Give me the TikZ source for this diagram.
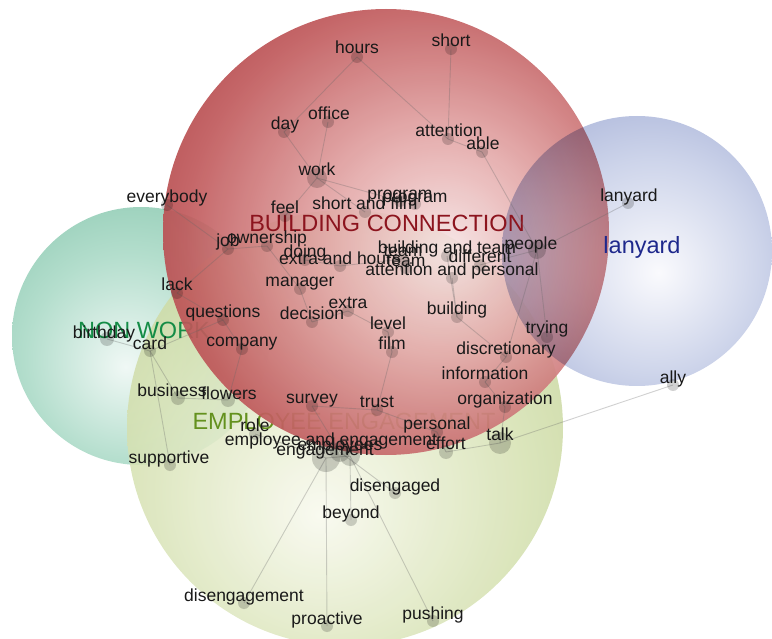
\documentclass[tikz,border=0pt]{standalone}
\usepackage{fontspec}
\setmainfont{Liberation Sans}
\definecolor{redA}{RGB}{246,228,228}
\definecolor{redB}{RGB}{228,170,170}
\definecolor{redC}{RGB}{192,90,92}
\definecolor{redD}{RGB}{163,44,48}
\definecolor{redE}{RGB}{145,28,34}
\definecolor{bluA}{RGB}{250,250,253}
\definecolor{bluB}{RGB}{205,212,234}
\definecolor{bluC}{RGB}{125,140,195}
\definecolor{tealA}{RGB}{240,248,245}
\definecolor{tealB}{RGB}{180,222,205}
\definecolor{tealC}{RGB}{98,178,148}
\definecolor{oliA}{RGB}{248,249,238}
\definecolor{oliB}{RGB}{215,226,180}
\definecolor{oliC}{RGB}{160,186,100}
\definecolor{bcRed}{RGB}{140,20,30}
\definecolor{lnBlue}{RGB}{30,40,140}
\definecolor{nwGreen}{RGB}{20,140,70}
\definecolor{eeOlive}{RGB}{100,145,30}
\pgfdeclareradialshading{redsh}{\pgfpoint{7bp}{-2bp}}{color(0bp)=(redA); color(12bp)=(redB); color(27bp)=(redC); color(40bp)=(redD); color(52bp)=(redE); color(75bp)=(redE)}
\pgfdeclareradialshading{blush}{\pgfpoint{4bp}{-4bp}}{color(0bp)=(bluA); color(20bp)=(bluB); color(52bp)=(bluC); color(75bp)=(bluC)}
\pgfdeclareradialshading{tealsh}{\pgfpoint{-3bp}{-6bp}}{color(0bp)=(tealA); color(20bp)=(tealB); color(54bp)=(tealC); color(75bp)=(tealC)}
\pgfdeclareradialshading{olish}{\pgfpoint{-3bp}{-10bp}}{color(0bp)=(oliA); color(22bp)=(oliB); color(58bp)=(oliC); color(75bp)=(oliC)}
\tikzset{
  word/.style={font=\fontsize{17.5}{18}\selectfont, text=black!90, inner sep=0pt, text height=13pt, text depth=0pt, anchor=center},
  biglabel/.style={font=\fontsize{23.5}{24}\selectfont, inner sep=0pt, text height=17pt, text depth=0pt, anchor=center},
  dot/.style={circle, fill=black, fill opacity=0.18, draw=none, minimum size=12pt, inner sep=0pt},
  link/.style={draw=black!60, draw opacity=0.3, line width=0.9pt}
}
\begin{document}
\begin{tikzpicture}[x=1pt,y=-1pt]
\useasboundingbox (0,0) rectangle (772,639);
\begin{scope}
\clip (0,0) rectangle (772,639);
% circles
\shade[shading=tealsh] (141,336) circle (129);
\shade[shading=olish, opacity=0.88] (345,428) circle (218);
\node[biglabel, text=nwGreen] (nonwork) at (144,330) {NON WORK};
\node[biglabel, text=eeOlive] (empeng) at (344,421) {EMPLOYEE ENGAGEMENT};
\shade[shading=redsh, opacity=0.92] (386,232) circle (223);
\begin{scope}[blend mode=multiply]
\shade[shading=blush] (637,251) circle (135);
\end{scope}
\end{scope}
\node[biglabel, text=bcRed] (bconn) at (387,223) {BUILDING CONNECTION};
\node[biglabel, text=lnBlue] (lanlabel) at (642,245) {lanyard};

% dot coordinates
\coordinate (hours-d) at (357,57);
\coordinate (short-d) at (451,49);
\coordinate (day-d) at (284,132);
\coordinate (office-d) at (328,122);
\coordinate (attention-d) at (448,139);
\coordinate (able-d) at (482,152);
\coordinate (work-d) at (317,178);
\coordinate (everybody-d) at (167,205);
\coordinate (feel-d) at (285,216);
\coordinate (shortfilm-d) at (365,212);
\coordinate (program-d) at (400,201);
\coordinate (programb-d) at (415,204);
\coordinate (job-d) at (228,249);
\coordinate (ownership-d) at (267,246);
\coordinate (doing-d) at (305,260);
\coordinate (extrahours-d) at (340,266);
\coordinate (team-d) at (403,259);
\coordinate (teamb-d) at (406,268);
\coordinate (buildteam-d) at (447,256);
\coordinate (different-d) at (480,265);
\coordinate (people-d) at (537,250);
\coordinate (attpers-d) at (452,278);
\coordinate (manager-d) at (300,289);
\coordinate (lack-d) at (177,293);
\coordinate (questions-d) at (223,320);
\coordinate (extra-d) at (348,311);
\coordinate (decision-d) at (312,322);
\coordinate (building-d) at (457,317);
\coordinate (level-d) at (388,332);
\coordinate (film-d) at (392,352);
\coordinate (trying-d) at (547,337);
\coordinate (discretionary-d) at (506,357);
\coordinate (information-d) at (485,382);
\coordinate (organization-d) at (505,407);
\coordinate (survey-d) at (312,406);
\coordinate (trust-d) at (377,410);
\coordinate (personal-d) at (437,432);
\coordinate (effort-d) at (446,452);
\coordinate (talk-d) at (500,443);
\coordinate (empandeng-d) at (340,452);
\coordinate (employees-d) at (350,456);
\coordinate (engagement-d) at (326,458);
\coordinate (role-d) at (255,434);
\coordinate (business-d) at (178,398);
\coordinate (flowers-d) at (228,400);
\coordinate (company-d) at (242,349);
\coordinate (birthday-d) at (107,339);
\coordinate (card-d) at (150,351);
\coordinate (supportive-d) at (170,465);
\coordinate (disengaged-d) at (395,493);
\coordinate (beyond-d) at (351,520);
\coordinate (disengagement-d) at (244,603);
\coordinate (proactive-d) at (327,626);
\coordinate (pushing-d) at (433,621);
\coordinate (lanyard-d) at (628,203);
\coordinate (ally-d) at (673,385);

% links
\foreach \a/\b in {hours/day, hours/attention, short/attention, day/work, office/work, work/program, work/feel, work/shortfilm,
  able/people, people/lanyard, people/trying, people/discretionary, people/different, ally/talk, talk/effort, talk/organization,
  engagement/disengagement, engagement/proactive, employees/pushing, employees/beyond, empandeng/disengaged, engagement/role,
  empandeng/survey, engagement/employees, birthday/card, card/business, card/supportive, card/questions, flowers/company,
  business/flowers, everybody/job, job/lack, job/ownership, ownership/manager, lack/questions, questions/company,
  manager/decision, decision/extra, extra/level, level/film, extrahours/doing, building/discretionary, buildteam/building,
  discretionary/information, information/organization, film/trust, trust/survey, trust/personal, personal/effort,
  attpers/building, team/extrahours, able/attention}
  \draw[link] (\a-d) -- (\b-d);

% dots
\foreach \n in {hours, short, day, office, attention, able, everybody, feel, shortfilm, program, programb, job, ownership,
  doing, extrahours, team, teamb, buildteam, different, attpers, manager, lack, questions, extra, decision, building,
  level, film, trying, discretionary, information, organization, survey, trust, personal, role, company, card,
  supportive, disengaged, beyond, disengagement, proactive, pushing, lanyard, ally}
  \node[dot] (\n-dot) at (\n-d) {};
\node[dot, minimum size=20pt] (work-dot) at (work-d) {};
\node[dot, minimum size=18pt] (people-dot) at (people-d) {};
\node[dot, minimum size=14pt] (effort-dot) at (effort-d) {};
\node[dot, minimum size=22pt] (talk-dot) at (talk-d) {};
\node[dot, minimum size=20pt] (empandeng-dot) at (empandeng-d) {};
\node[dot, minimum size=20pt] (employees-dot) at (employees-d) {};
\node[dot, minimum size=28pt] (engagement-dot) at (engagement-d) {};
\node[dot, minimum size=14pt] (business-dot) at (business-d) {};
\node[dot, minimum size=14pt] (flowers-dot) at (flowers-d) {};
\node[dot, minimum size=14pt] (birthday-dot) at (birthday-d) {};

% words
\node[word] (hours) at (357,47) {hours};
\node[word] (short) at (451,40) {short};
\node[word] (day) at (285,123) {day};
\node[word] (office) at (329,113) {office};
\node[word] (attention) at (449,130) {attention};
\node[word] (able) at (483,143) {able};
\node[word] (work) at (317,169) {work};
\node[word] (everybody) at (167,196) {everybody};
\node[word] (feel) at (285,207) {feel};
\node[word] (shortfilm) at (365,203) {short and film};
\node[word] (program) at (400,193) {program};
\node[word] (programb) at (415,196) {program};
\node[word] (job) at (228,240) {job};
\node[word] (ownership) at (267,237) {ownership};
\node[word] (doing) at (305,251) {doing};
\node[word] (extrahours) at (340,258) {extra and hours};
\node[word] (team) at (403,250) {team};
\node[word] (teamb) at (406,260) {team};
\node[word] (buildteam) at (447,247) {building and team};
\node[word] (different) at (480,256) {different};
\node[word] (people) at (531,243) {people};
\node[word] (attpers) at (452,269) {attention and personal};
\node[word] (manager) at (300,280) {manager};
\node[word] (lack) at (177,284) {lack};
\node[word] (questions) at (223,311) {questions};
\node[word] (extra) at (348,302) {extra};
\node[word] (decision) at (312,313) {decision};
\node[word] (building) at (457,308) {building};
\node[word] (level) at (388,323) {level};
\node[word] (film) at (392,343) {film};
\node[word] (trying) at (547,327) {trying};
\node[word] (discretionary) at (506,348) {discretionary};
\node[word] (information) at (485,373) {information};
\node[word] (organization) at (505,398) {organization};
\node[word] (survey) at (312,397) {survey};
\node[word] (trust) at (377,401) {trust};
\node[word] (personal) at (437,423) {personal};
\node[word] (effort) at (446,443) {effort};
\node[word] (talk) at (500,434) {talk};
\node[word] (role) at (255,425) {role};
\node[word] (empandeng) at (331,439) {employee and engagement};
\node[word] (employees) at (340,444) {employees};
\node[word] (engagement) at (325,449) {engagement};
\node[word] (business) at (172,390) {business};
\node[word] (flowers) at (229,393) {flowers};
\node[word] (company) at (242,340) {company};
\node[word] (birthday) at (104,332) {birthday};
\node[word] (card) at (150,343) {card};
\node[word] (supportive) at (169,457) {supportive};
\node[word] (disengaged) at (395,485) {disengaged};
\node[word] (beyond) at (351,512) {beyond};
\node[word] (disengagement) at (244,595) {disengagement};
\node[word] (proactive) at (327,618) {proactive};
\node[word] (pushing) at (433,613) {pushing};
\node[word] (lanyard) at (629,195) {lanyard};
\node[word] (ally) at (673,377) {ally};
\end{tikzpicture}
\end{document}
